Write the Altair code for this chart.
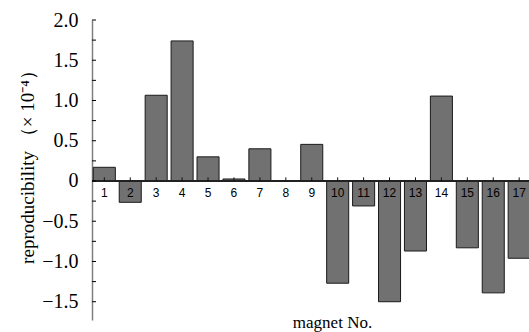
import altair as alt
import pandas as pd

magnets = [str(i) for i in range(1, 18)]
values = [0.17, -0.265, 1.065, 1.74, 0.30, 0.025, 0.40, 0.0, 0.455,
          -1.27, -0.31, -1.50, -0.87, 1.055, -0.83, -1.39, -0.96]
y_ticks = [-1.5, -1.25, -1.0, -0.75, -0.5, -0.25, 0.0, 0.25, 0.5,
           0.75, 1.0, 1.25, 1.5, 1.75, 2.0]
y_domain = [-1.727, 2.0]

df = pd.DataFrame({"magnet": magnets, "value": values})
tick_df = pd.DataFrame({"tick": y_ticks})

x_enc = alt.X(
    "magnet:N",
    sort=magnets,
    scale=alt.Scale(paddingInner=0.15, paddingOuter=0.05, range=[0, 439.5]),
    axis=alt.Axis(
        domain=False, ticks=False, labels=False, grid=False,
        title="magnet No.", titleFont="Liberation Serif", titleFontSize=17,
        titleFontWeight="normal", titleColor="black",
        titleX=240, titleY=7.5, titleAlign="center", titleBaseline="alphabetic",
    ),
)
y_enc = alt.Y(
    "value:Q",
    scale=alt.Scale(domain=y_domain, nice=False, zero=False),
    axis=alt.Axis(
        values=y_ticks,
        labelExpr="datum.value % 0.5 == 0 ? (datum.value == 0 ? '0' : format(datum.value, '.1f')) : ''",
        grid=False,
        domainColor="#7f7f7f", domainWidth=1.5,
        ticks=False,
        labelPadding=14, labelFont="Liberation Serif", labelFontSize=20,
        labelColor="black",
        title="reproducibility （× 10⁻⁴）", titleFont="Liberation Serif",
        titleFontSize=19, titleFontWeight="normal", titleColor="black",
        titleX=-65, titleY=142, titleAlign="center", titleBaseline="middle",
        titleAngle=270,
    ),
)

base = alt.Chart(df)

bars = base.mark_bar(
    color="#717171", stroke="#1a1a1a", strokeWidth=1, clip=True
).encode(x=x_enc, y=y_enc)

zero_line = base.mark_rule(color="#222222", strokeWidth=1).encode(
    y=alt.datum(0)
)

x_ticks = base.mark_rule(color="#111111", strokeWidth=1).encode(
    x=alt.X("magnet:N", sort=magnets),
    y=alt.datum(0),
    y2=alt.datum(0.045),
)

y_tick_marks = alt.Chart(tick_df).mark_rule(
    color="black", strokeWidth=1
).encode(
    y=alt.Y("tick:Q"),
    x=alt.value(0),
    x2=alt.value(4),
)

labels = base.mark_text(
    font="Liberation Sans", fontSize=12, color="black",
    baseline="middle", align="center", dy=12,
).encode(
    x=alt.X("magnet:N", sort=magnets),
    y=alt.datum(0),
    text="magnet:N",
)

chart = alt.layer(bars, zero_line, labels, x_ticks, y_tick_marks).properties(
    width=437,
    height=300,
    autosize=alt.AutoSizeParams(type="none"),
    padding={"left": 92, "top": 20, "right": 0, "bottom": 12},
    background="white",
).configure_view(stroke=None)

chart.save("out.html", embed_options={"renderer": "svg", "actions": False})
